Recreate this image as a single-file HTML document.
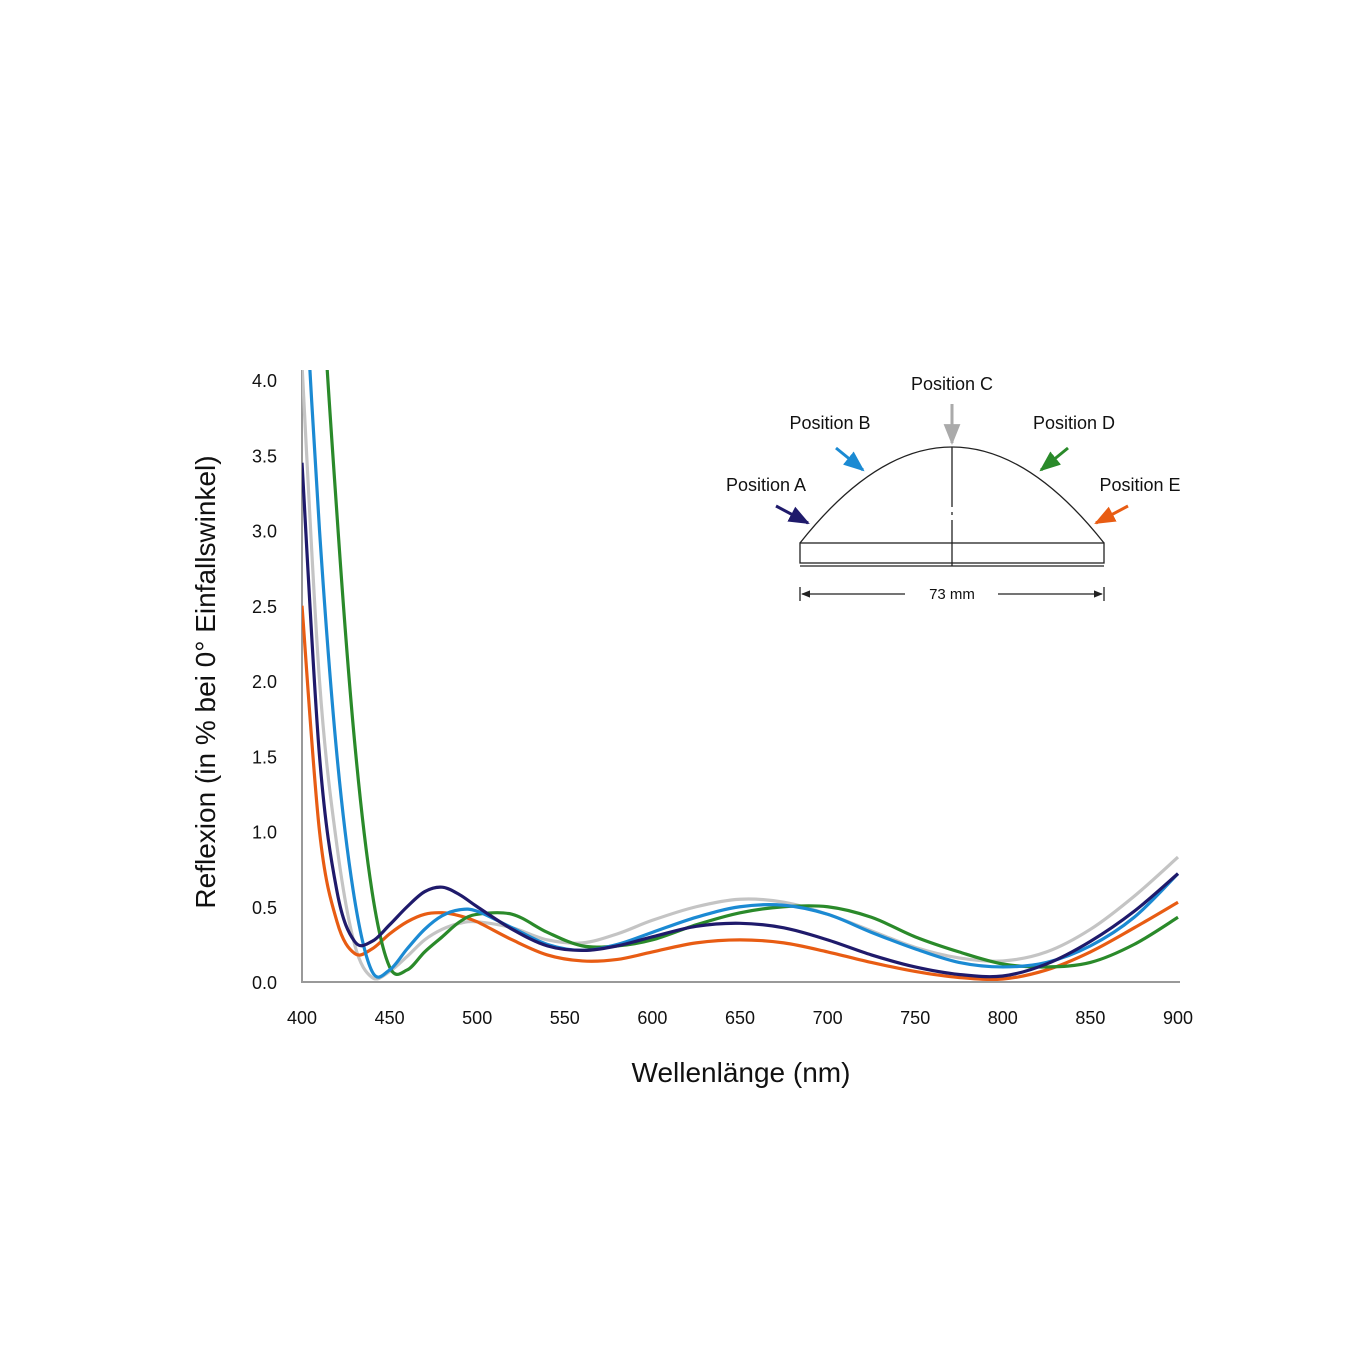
<!DOCTYPE html>
<html><head><meta charset="utf-8"><style>
html,body{margin:0;padding:0;background:#fff;}
svg{display:block;font-family:"Liberation Sans",sans-serif;}
</style></head><body>
<svg id="chart" width="1357" height="1357" viewBox="0 0 1357 1357">
<defs><clipPath id="plotclip"><rect x="302" y="370" width="880" height="614"/></clipPath>
<marker id="ah" viewBox="0 0 10 10" refX="9" refY="5" markerWidth="7" markerHeight="7" orient="auto-start-reverse"><path d="M0,1 L10,5 L0,9 z" fill="context-stroke"/></marker>
</defs>
<g id="axes"></g>
<g id="series" clip-path="url(#plotclip)"></g>
<text x="741" y="1082" text-anchor="middle" font-size="28" fill="#111">Wellenlänge  (nm)</text>
<text transform="translate(215,682) rotate(-90)" text-anchor="middle" font-size="28" fill="#111">Reflexion (in % bei 0° Einfallswinkel)</text>
<g fill="none" stroke="#222" stroke-width="1.3">
<path d="M800,543 Q952,351 1104,543"/>
<rect x="800" y="543" width="304" height="20"/>
<line x1="800" y1="566" x2="1104" y2="566"/>
<line x1="952" y1="447" x2="952" y2="566" stroke-dasharray="60,5,3,5"/>
<line x1="800" y1="587" x2="800" y2="601"/>
<line x1="1104" y1="587" x2="1104" y2="601"/>
<line x1="905" y1="594" x2="802" y2="594" marker-end="url(#ah)"/>
<line x1="998" y1="594" x2="1102" y2="594" marker-end="url(#ah)"/>
<line x1="776" y1="506" x2="808" y2="523" stroke="#1f1a6b" stroke-width="3" marker-end="url(#ah)"/>
<line x1="836" y1="448" x2="863" y2="470" stroke="#1b8ad3" stroke-width="3" marker-end="url(#ah)"/>
<line x1="952" y1="404" x2="952" y2="443" stroke="#aaa" stroke-width="3" marker-end="url(#ah)"/>
<line x1="1068" y1="448" x2="1041" y2="470" stroke="#2a8a2a" stroke-width="3" marker-end="url(#ah)"/>
<line x1="1128" y1="506" x2="1096" y2="523" stroke="#e85c13" stroke-width="3" marker-end="url(#ah)"/>
</g>
<g font-size="18" fill="#111">
<text x="766" y="491" text-anchor="middle">Position A</text>
<text x="830" y="429" text-anchor="middle">Position B</text>
<text x="952" y="390" text-anchor="middle">Position C</text>
<text x="1074" y="429" text-anchor="middle">Position D</text>
<text x="1140" y="491" text-anchor="middle">Position E</text>
<text x="952" y="599" text-anchor="middle" font-size="15">73 mm</text>
</g>
</svg>
<script>
const wavelengths=[400,410,420,430,440,450,460,470,480,490,500,520,540,560,580,600,625,650,675,700,725,750,775,800,825,850,875,900];
const posA=[3.45,1.5,0.6,0.27,0.27,0.38,0.5,0.6,0.63,0.58,0.5,0.35,0.24,0.21,0.24,0.3,0.37,0.39,0.36,0.28,0.18,0.1,0.05,0.04,0.12,0.27,0.47,0.72];
const posB=[5.0,3.0,1.5,0.55,0.07,0.08,0.22,0.35,0.44,0.48,0.47,0.36,0.25,0.21,0.25,0.33,0.43,0.5,0.51,0.45,0.33,0.22,0.13,0.1,0.13,0.24,0.43,0.72];
const posC=[4.1,2.0,0.9,0.25,0.03,0.07,0.17,0.28,0.35,0.39,0.4,0.36,0.28,0.26,0.32,0.41,0.5,0.55,0.53,0.45,0.34,0.23,0.16,0.14,0.2,0.35,0.57,0.83];
const posD=[8.0,5.0,3.1,1.6,0.6,0.1,0.08,0.2,0.3,0.4,0.45,0.45,0.33,0.24,0.24,0.28,0.38,0.46,0.5,0.5,0.43,0.3,0.2,0.12,0.1,0.13,0.25,0.43];
const posE=[2.5,1.0,0.4,0.19,0.22,0.32,0.4,0.45,0.46,0.44,0.4,0.28,0.18,0.14,0.15,0.2,0.26,0.28,0.26,0.2,0.13,0.07,0.03,0.02,0.08,0.2,0.36,0.53];
const xTicks=[400,450,500,550,600,650,700,750,800,850,900];
const yTicks=[0,0.5,1,1.5,2,2.5,3,3.5,4];
const NS="http://www.w3.org/2000/svg";
const xs=w=>302+(w-400)*(876/500);
const ys=v=>982-v*(602/4);
const axes=document.getElementById('axes');
function mk(t,a,p){const e=document.createElementNS(NS,t);for(const k in a)e.setAttribute(k,a[k]);p.appendChild(e);return e;}
const yl=mk('line',{x1:302,y1:370,x2:302,y2:982,stroke:'#999','stroke-width':2},axes);


const xl=mk('line',{x1:301,y1:982,x2:1180,y2:982,stroke:'#999','stroke-width':2},axes);


xTicks.forEach(t=>{const e=mk('text',{x:xs(t),y:1024,'text-anchor':'middle','font-size':18,fill:'#111'},axes);e.textContent=t;

});
yTicks.forEach(t=>{const e=mk('text',{x:277,y:ys(t)+7,'text-anchor':'end','font-size':18,fill:'#111'},axes);e.textContent=t.toFixed(1);

});
function pathD(vals){const p=wavelengths.map((w,i)=>[xs(w),ys(vals[i])]);let d='M'+p[0][0]+','+p[0][1];
for(let i=0;i<p.length-1;i++){const p0=p[i-1]||p[i],p1=p[i],p2=p[i+1],p3=p[i+2]||p2;
const c1=[p1[0]+(p2[0]-p0[0])/6,p1[1]+(p2[1]-p0[1])/6],c2=[p2[0]-(p3[0]-p1[0])/6,p2[1]-(p3[1]-p1[1])/6];
d+=' C'+c1+' '+c2+' '+p2;}return d;}
const series=[[posC,'#c4c4c4','series-position-c'],[posE,'#e85c13','series-position-e'],[posD,'#2a8a2a','series-position-d'],[posB,'#1b8ad3','series-position-b'],[posA,'#1f1a6b','series-position-a']];
const sg=document.getElementById('series');
series.forEach(s=>{const e=mk('path',{d:pathD(s[0]),fill:'none',stroke:s[1],'stroke-width':3.2},sg);

});
</script>
</body></html>
